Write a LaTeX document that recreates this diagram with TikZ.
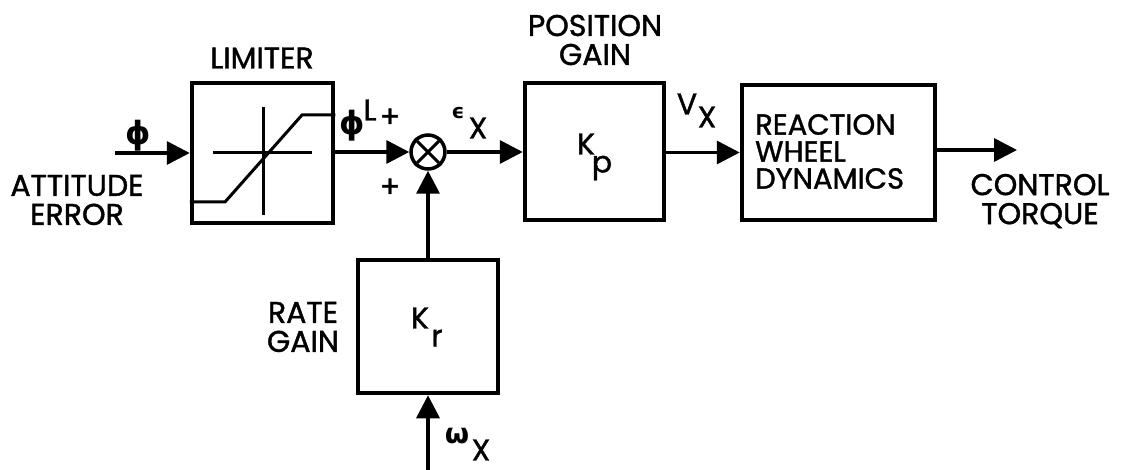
\documentclass[tikz,border=0pt]{standalone}
\usepackage{fontspec}
\setmainfont{Poppins}[FakeBold=1.3]
\newfontfamily\grk{DejaVu Sans}
\usetikzlibrary{arrows.meta}
\begin{document}
\begin{tikzpicture}[x=1pt,y=-1pt,
  blk/.style={draw,line width=4.5pt,inner sep=0pt},
  conn/.style={line width=3.5pt,-{Triangle[length=23pt,width=23pt]}},
  lbl/.style={font=\fontsize{30}{32}\selectfont,inner sep=0pt,align=center},
  every node/.style={inner sep=0pt}]
\useasboundingbox (0,0) rectangle (1123,470);
% blocks
\node[blk,minimum width=141pt,minimum height=140pt] (lim) at (262.5,153) {};
\node[blk,minimum width=139pt,minimum height=137pt] (kp) at (594.5,151.5) {};
\node[blk,minimum width=193pt,minimum height=135pt] (rw) at (838.5,152.5) {};
\node[blk,minimum width=140pt,minimum height=133pt] (kr) at (428,326.5) {};
\node[draw,circle,line width=3.5pt,minimum size=34pt] (sum) at (428,152) {};
\draw[line width=3pt] (sum.north east) -- (sum.south west) (sum.north west) -- (sum.south east);
% limiter characteristic
\draw[line width=3pt] (213,153) -- (312,153) (263,107) -- (263,215);
\draw[line width=3pt] (lim.west |- 0,202) -- (225,202) -- (302,115) -- (lim.east |- 0,115);
% labels
\node[lbl] (tlim) at (262,58) {LIMITER};
\node[lbl] (tpos) at (595,40) {POSITION\\[-3pt]GAIN};
\node[lbl] (tatt) at (77,200) {ATTITUDE\\[-3pt]ERROR};
\node[lbl] (tctl) at (1040,201) {CONTROL\\[-3pt]TORQUE};
\node[lbl] (trate) at (303,327) {RATE\\[-3pt]GAIN};
\node[lbl,align=left,anchor=west,font=\fontsize{29}{31}\selectfont] (trw) at (755,151.5) {REACTION\\[-4pt]WHEEL\\[-4pt]DYNAMICS};
\node[lbl] (tkp) at (586,144) {K};
\node[lbl] (tkps) at (602,168) {p};
\node[lbl] (tkr) at (420,318) {K};
\node[lbl] (tkrs) at (437,338) {r};
% greek labels
\node[lbl,font=\fontsize{32}{34}\selectfont] (tphi) at (138,136) {\grk\bfseries ϕ};
\node[lbl,font=\fontsize{32}{34}\selectfont] (tphil) at (352,126) {\grk\bfseries ϕ};
\node[lbl] (tL) at (370,110) {L};
\node[lbl] (tp1) at (390,118) {+};
\node[lbl] (tp2) at (390,188) {+};
\node[lbl,font=\fontsize{20}{22}\selectfont] (teps) at (458,113) {\grk\bfseries ϵ};
\node[lbl] (teX) at (478,128) {X};
\node[lbl] (tV) at (687,104) {V};
\node[lbl] (tVX) at (707,117) {X};
\node[lbl,font=\fontsize{28}{30}\selectfont] (tom) at (457,436) {\grk\bfseries ω};
\node[lbl] (tomX) at (481,450) {X};
% connectors
\coordinate (in) at (115,153);
\coordinate (out) at (1017,150);
\coordinate (wb) at (428,470);
\draw[conn] (in) -- (lim.west);
\draw[conn] (lim.east |- sum) -- (sum.west);
\draw[conn] (sum.east) -- (kp.west |- sum);
\draw[conn] (kp.east |- rw) -- (rw.west);
\draw[conn] (rw.east |- out) -- (out);
\draw[conn] (kr.north) -- (sum.south);
\draw[conn] (wb) -- (kr.south);
\end{tikzpicture}
\end{document}
